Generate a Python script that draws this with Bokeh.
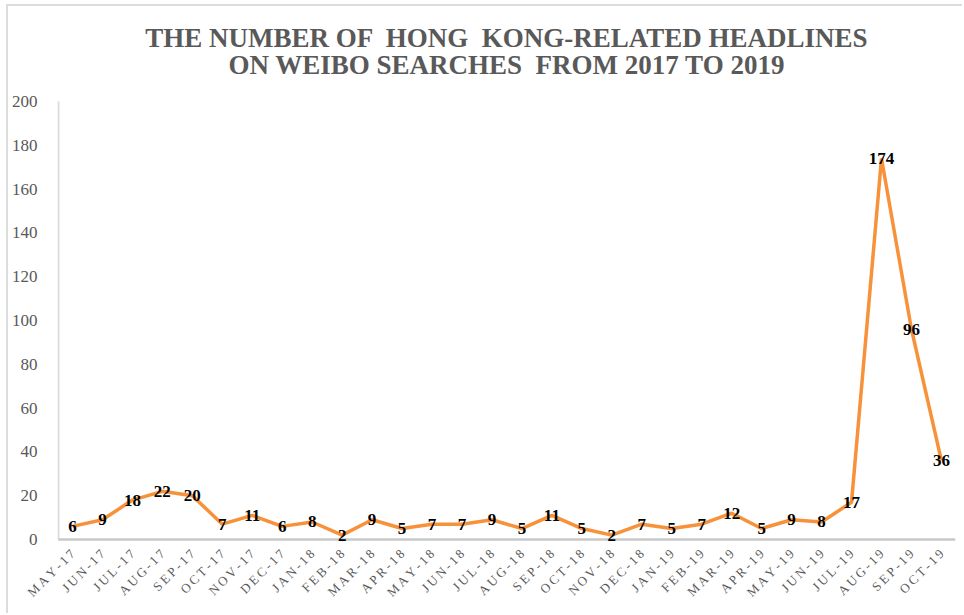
from bokeh.plotting import figure
from bokeh.models import ColumnDataSource, LabelSet, FixedTicker
from bokeh.core.properties import value
from bokeh.embed import file_html
from bokeh.resources import INLINE
import math

months = ["MAY-17", "JUN-17", "JUL-17", "AUG-17", "SEP-17", "OCT-17", "NOV-17", "DEC-17",
          "JAN-18", "FEB-18", "MAR-18", "APR-18", "MAY-18", "JUN-18", "JUL-18", "AUG-18",
          "SEP-18", "OCT-18", "NOV-18", "DEC-18", "JAN-19", "FEB-19", "MAR-19", "APR-19",
          "MAY-19", "JUN-19", "JUL-19", "AUG-19", "SEP-19", "OCT-19"]
counts = [6, 9, 18, 22, 20, 7, 11, 6, 8, 2, 9, 5, 7, 7, 9, 5, 11, 5, 2, 7, 5, 7, 12, 5,
          9, 8, 17, 174, 96, 36]
y_ticks = [0, 20, 40, 60, 80, 100, 120, 140, 160, 180, 200]
title_lines = ["THE NUMBER OF \u00a0HONG \u00a0KONG-RELATED HEADLINES",
               "ON WEIBO SEARCHES \u00a0FROM 2017 TO 2019"]

# layout geometry (pixels in the 964x615 page)
PX_TOP, PX_ZERO, PX_200, PX_BOTTOM = 8, 539, 101, 552
ppu = (PX_ZERO - PX_200) / 200.0
y_top = 200 + (PX_200 - PX_TOP) / ppu
y_bot = -(PX_BOTTOM - PX_ZERO) / ppu
n = len(months)
x_lo, x_hi = -0.5, n - 1 + 0.47

idx = list(range(n))
src = ColumnDataSource(dict(x=idx, y=counts, lab=[str(c) for c in counts]))

p = figure(width=956, height=609, output_backend="svg", toolbar_location=None,
           x_range=(x_lo, x_hi), y_range=(y_bot, y_top),
           min_border_left=49, min_border_right=9, min_border_top=PX_TOP - 6,
           min_border_bottom=615 - PX_BOTTOM, title=None)
p.styles = {"margin-left": "6px", "margin-top": "4px",
            "border-left": "2px solid #dcdcdc", "border-top": "2px solid #dcdcdc"}
p.outline_line_color = None
p.xgrid.grid_line_color = None
p.ygrid.grid_line_color = None
p.background_fill_color = "white"
p.border_fill_color = "white"

# title (two centred lines)
title_y = [(PX_ZERO - 37.5) / ppu, (PX_ZERO - 64) / ppu]
p.text(x=[(n - 1) / 2.0] * 2, y=title_y, text=title_lines, text_align="center",
       text_baseline="middle", text_font=value("Liberation Serif"), text_font_style="bold",
       text_font_size="27px", text_color="#595959")

# axis lines
p.segment(x0=[-0.47], y0=[0], x1=[-0.47], y1=[200], line_color="#d9d9d9", line_width=2)
p.segment(x0=[-0.47], y0=[0], x1=[x_hi], y1=[0], line_color="#c8c8c8", line_width=2.5)

p.line("x", "y", source=src, line_color="#F7923A", line_width=3.5)
p.add_layout(LabelSet(x="x", y="y", text="lab", source=src, text_align="center",
                      text_baseline="middle", text_font="Liberation Serif",
                      text_font_style="bold", text_font_size="17px", text_color="black"))

# axes
p.yaxis.ticker = FixedTicker(ticks=y_ticks)
p.yaxis.axis_line_color = None
p.yaxis.major_tick_line_color = None
p.yaxis.minor_tick_line_color = None
p.yaxis.major_label_text_font = "Liberation Serif"
p.yaxis.major_label_text_font_size = "17px"
p.yaxis.major_label_text_color = "#595959"
p.yaxis.major_label_standoff = 14

p.xaxis.ticker = FixedTicker(ticks=idx)
p.xaxis.major_label_overrides = {i: "\u2009".join(m) for i, m in enumerate(months)}
p.xaxis.major_label_orientation = math.pi / 4
p.xaxis.axis_line_color = None
p.xaxis.major_tick_line_color = None
p.xaxis.minor_tick_line_color = None
p.xaxis.major_label_text_font = "Liberation Serif"
p.xaxis.major_label_text_font_size = "13px"
p.xaxis.major_label_text_color = "#595959"
p.xaxis.major_label_standoff = 6 - (PX_BOTTOM - PX_ZERO)

open("out.html", "w").write(file_html(p, INLINE))
